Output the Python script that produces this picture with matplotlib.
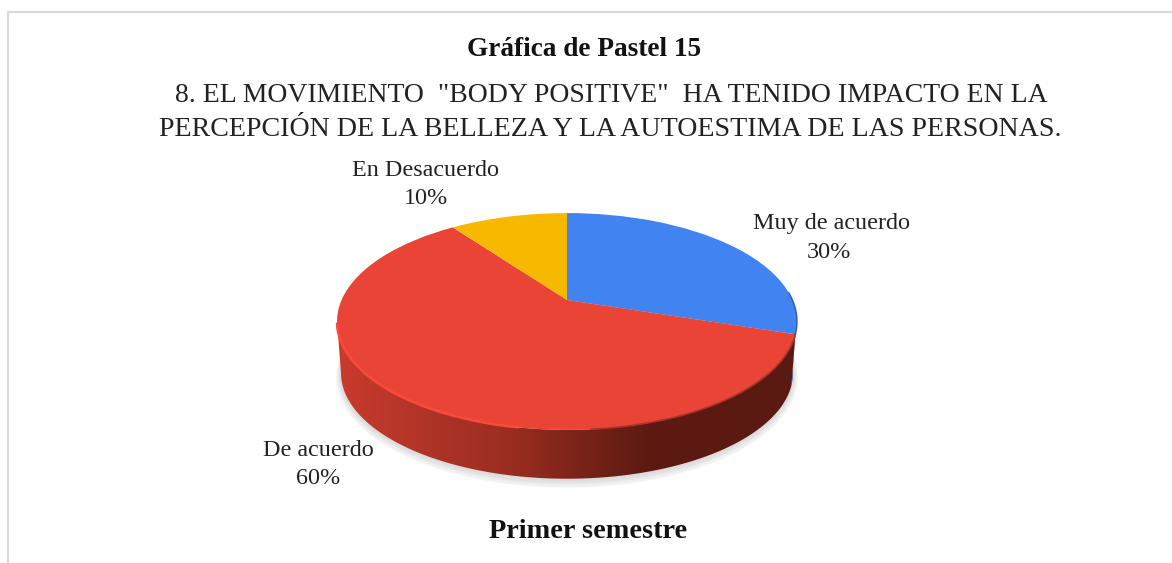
import numpy as np
import matplotlib
matplotlib.use('Agg')
import matplotlib.pyplot as plt
from matplotlib.colors import LinearSegmentedColormap
from matplotlib.patches import Polygon
from matplotlib.transforms import Transform

categories = ['Muy de acuerdo', 'De acuerdo', 'En Desacuerdo']
values = [30, 60, 10]
slice_colors = ['#4183F0', '#E94435', '#F7B900']

title = 'Gráfica de Pastel 15'
question = ['8. EL MOVIMIENTO  "BODY POSITIVE"  HA TENIDO IMPACTO EN LA',
            'PERCEPCIÓN DE LA BELLEZA Y LA AUTOESTIMA DE LAS PERSONAS.']
footer = 'Primer semestre'

plt.rcParams['font.family'] = ['Liberation Serif', 'DejaVu Serif']


# tilted pie: unit circle -> ellipse in pixels, with the centre pushed towards the back
class Tilt(Transform):
    input_dims = 2
    output_dims = 2
    is_separable = False
    has_inverse = False

    def __init__(self, cx, cy, rx, ry, apex=22, c=0.198):
        super().__init__()
        self.cx, self.cy, self.rx, self.ry, self.apex, self.c = cx, cy, rx, ry, apex, c

    def transform_non_affine(self, xy):
        xy = np.asarray(xy, dtype=float)
        u, v = xy[:, 0], xy[:, 1]
        w = 1 + self.c * v
        x = self.cx + self.rx * np.sqrt(1 - self.c ** 2) * u / w
        y = self.cy - (self.ry * v + self.apex) / w
        return np.column_stack([x, y])


def rim(tilt, a0, a1):
    t = np.radians(np.linspace(a0, a1, 200))
    return tilt.transform_non_affine(np.column_stack([np.cos(t), np.sin(t)]))


fig = plt.figure(figsize=(11.72, 5.63), dpi=100)
ax = fig.add_axes([0, 0, 1, 1])

top = Tilt(567, 322, 230, 108.5)
bottom = Tilt(567, 374, 226, 106)

wedges, _ = ax.pie(values, colors=slice_colors, startangle=90, counterclock=False,
                   wedgeprops={'linewidth': 0})
ax.set_aspect('auto')
for w in wedges:
    w.set_transform(top + ax.transData)
    w.set_zorder(5)

# soft shadow under the pie
for grow, drop in [(5, 3), (4, 3), (3, 2), (2, 2), (1, 1)]:
    shadow = Tilt(567, 374 + drop, 226 + grow, 106 + grow)
    ax.add_patch(Polygon(rim(shadow, 0, 360), closed=True, fc='#808080', ec='none',
                         alpha=0.06, zorder=1))

# side wall, blue sliver then the red part with its shading
blue_wall = np.vstack([rim(top, -8, -18), rim(bottom, -18, -8)])
ax.add_patch(Polygon(blue_wall, closed=True, fc='#2F5FA8', ec='none', zorder=2))
red_wall = np.vstack([rim(top, -18, -168.6), rim(bottom, -168.6, -18)])
clip = Polygon(red_wall, closed=True, fc='none', ec='none', zorder=3)
ax.add_patch(clip)
wall_cmap = LinearSegmentedColormap.from_list(
    'wall', [(0, '#C93B2D'), (0.2, '#AE3427'), (0.38, '#9A2D20'), (0.52, '#7C2419'),
             (0.68, '#5C1A12'), (1, '#5A1911')])
im = ax.imshow(np.linspace(0, 1, 256).reshape(1, -1), cmap=wall_cmap, aspect='auto',
               extent=(337, 797, 490, 320), zorder=3)
im.set_clip_path(clip)

# bright rim on the front left, dark blur on the right
edge = rim(top, -100, -168)
ax.plot(edge[:, 0], edge[:, 1], color='#FA4A3C', lw=1.8, zorder=6, solid_capstyle='butt')
edge = rim(top, -18, -85)
ax.plot(edge[:, 0], edge[:, 1], color='#A8352A', lw=1.2, zorder=6)
edge = rim(top, 4, -18)
ax.plot(edge[:, 0], edge[:, 1], color='#2F5FA8', lw=1.0, zorder=6)

# frame of the page
ax.plot([8, 8, 1172], [563, 12, 12], color='#D9D9D9', lw=1.5, zorder=1)

ax.text(584.5, 49, title, ha='center', va='center', fontsize=19.6, fontweight='bold', color='#111111')
ax.text(611.5, 96, question[0], ha='center', va='center', fontsize=20, color='#222222')
ax.text(610, 130, question[1], ha='center', va='center', fontsize=20.2, color='#222222')
ax.text(588, 531, footer, ha='center', va='center', fontsize=20.3, fontweight='bold', color='#111111')

ax.text(831.5, 223, categories[0], ha='center', va='center', fontsize=17.4, color='#222222')
ax.text(829, 252, '%d%%' % values[0], ha='center', va='center', fontsize=17.4, color='#222222')
ax.text(318.5, 451, categories[1], ha='center', va='center', fontsize=17.4, color='#222222')
ax.text(318, 479, '%d%%' % values[1], ha='center', va='center', fontsize=17.4, color='#222222')
ax.text(426, 171, categories[2], ha='center', va='center', fontsize=17.4, color='#222222')
ax.text(426, 199, '%d%%' % values[2], ha='center', va='center', fontsize=17.4, color='#222222')

ax.set_xlim(0, 1172)
ax.set_ylim(563, 0)
ax.axis('off')
fig.savefig('out.png', dpi=100, facecolor='white')
